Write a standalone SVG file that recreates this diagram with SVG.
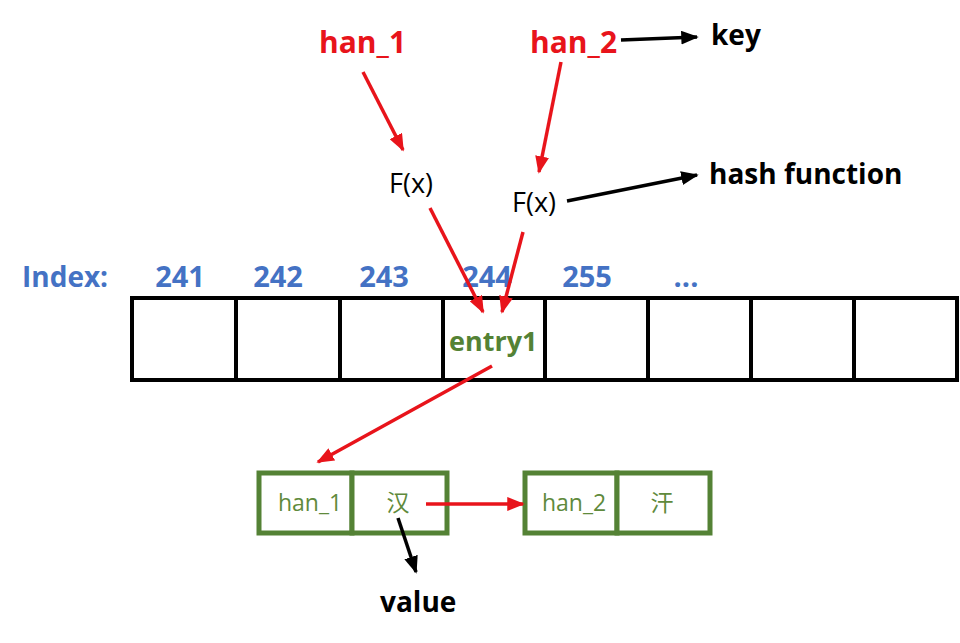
<svg xmlns="http://www.w3.org/2000/svg" width="960" height="643" viewBox="0 0 960 643">
<style>
.red{font-family:"Open Sans",Lato,sans-serif;font-weight:bold;font-size:30px;fill:#e8141b}
.blk{font-family:"Open Sans",Lato,sans-serif;font-weight:bold;font-size:28px;fill:#000}
.fx{font-family:"Open Sans",Lato,sans-serif;font-size:27px;fill:#000}
.idx{font-family:"Open Sans",Lato,sans-serif;font-weight:bold;font-size:29px;fill:#4472c4}
.ent{font-family:"Open Sans",Lato,sans-serif;font-weight:bold;font-size:27px;fill:#548235}
.lt{font-family:"Open Sans","Noto Sans CJK SC",sans-serif;font-size:23px;fill:#5f8a3c}
.cell{fill:#fff;stroke:#000;stroke-width:4}
.node{fill:#fff;stroke:#548235;stroke-width:5}
.ra{stroke:#e8141b;stroke-width:3.5;fill:none;marker-end:url(#rh)}
.ba{stroke:#000;stroke-width:3.5;fill:none;marker-end:url(#bh)}
</style>
<defs>
<marker id="rh" markerWidth="5" markerHeight="4" refX="4.5" refY="2" orient="auto" markerUnits="strokeWidth"><path d="M0,0 L5,2 L0,4 z" fill="#e8141b"/></marker>
<marker id="bh" markerWidth="5" markerHeight="4" refX="4.5" refY="2" orient="auto" markerUnits="strokeWidth"><path d="M0,0 L5,2 L0,4 z" fill="#000"/></marker>
</defs>
<rect width="960" height="643" fill="#fff"/>
<g id="labels">
<text class="red" x="319" y="53">han_1</text>
<text class="red" x="530" y="53">han_2</text>
<text class="blk" x="711" y="45">key</text>
<text class="fx" x="389" y="193">F(x)</text>
<text class="fx" x="512" y="212">F(x)</text>
<text class="blk" x="709" y="184">hash function</text>
<text class="blk" x="380" y="612">value</text>
</g>
<g id="index">
<text class="idx" x="22" y="287" style="font-size:28px">Index:</text>
<text class="idx" x="180" y="287" text-anchor="middle">241</text>
<text class="idx" x="278" y="287" text-anchor="middle">242</text>
<text class="idx" x="384" y="287" text-anchor="middle">243</text>
<text class="idx" x="487" y="287" text-anchor="middle">244</text>
<text class="idx" x="587" y="287" text-anchor="middle">255</text>
<text class="idx" x="686" y="287" text-anchor="middle">...</text>
</g>
<g id="array">
<rect class="cell" x="132" y="298" width="104" height="82"/>
<rect class="cell" x="236" y="298" width="104" height="82"/>
<rect class="cell" x="340" y="298" width="103" height="82"/>
<rect class="cell" x="443" y="298" width="102" height="82"/>
<rect class="cell" x="545" y="298" width="103" height="82"/>
<rect class="cell" x="648" y="298" width="103" height="82"/>
<rect class="cell" x="751" y="298" width="103" height="82"/>
<rect class="cell" x="854" y="298" width="103" height="82"/>
<text class="ent" x="449" y="351">entry1</text>
</g>
<g id="node1">
<rect class="node" x="259" y="473" width="93" height="60"/>
<rect class="node" x="352" y="473" width="95" height="60"/>
<text class="lt" x="310" y="511" text-anchor="middle">han_1</text>
<text class="lt" x="398" y="511" text-anchor="middle">汉</text>
</g>
<g id="node2">
<rect class="node" x="525" y="473" width="92" height="60"/>
<rect class="node" x="617" y="473" width="93" height="60"/>
<text class="lt" x="574" y="511" text-anchor="middle">han_2</text>
<text class="lt" x="662" y="511" text-anchor="middle">汗</text>
</g>
<g id="connectors">
<line class="ba" x1="621" y1="40" x2="697" y2="37"/>
<line class="ba" x1="567" y1="201" x2="697" y2="175"/>
<line class="ra" x1="363" y1="72" x2="403" y2="150"/>
<line class="ra" x1="561" y1="62" x2="539" y2="172"/>
<line class="ra" x1="430" y1="208" x2="483" y2="312"/>
<line class="ra" x1="523" y1="232" x2="502" y2="312"/>
<line class="ra" x1="492" y1="366" x2="318" y2="462"/>
<line class="ra" x1="426" y1="504" x2="523" y2="504"/>
<line class="ba" x1="398" y1="518" x2="416" y2="572"/>
</g>
</svg>
